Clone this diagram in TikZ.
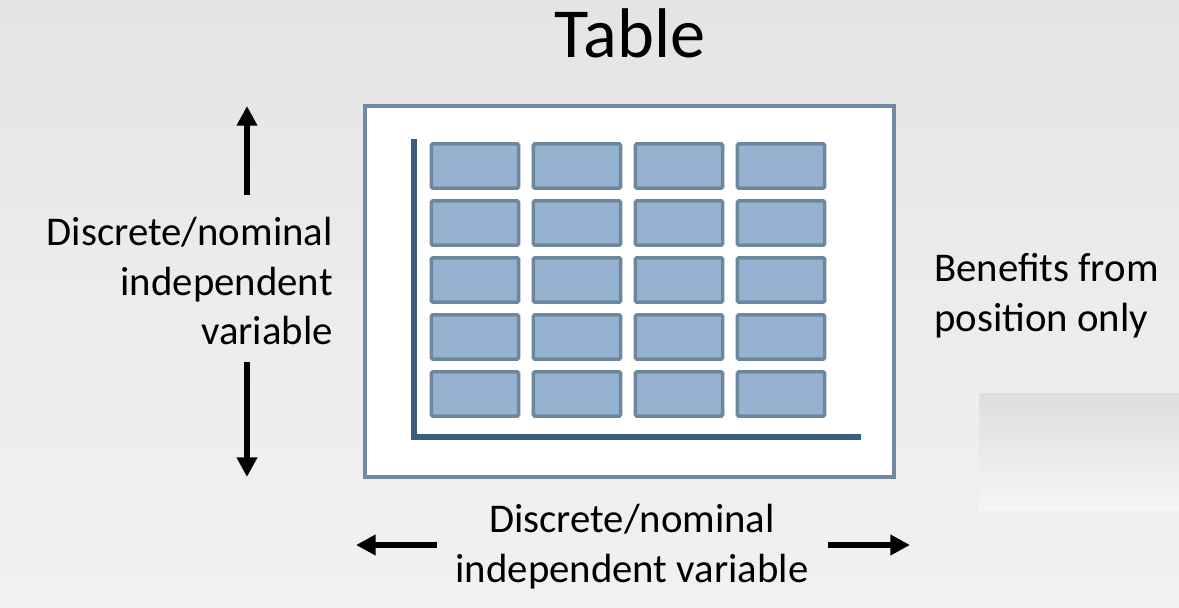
\documentclass[tikz,border=0pt]{standalone}
\usepackage{fontspec}
\setmainfont{Carlito}
\usetikzlibrary{arrows.meta,positioning}
\definecolor{bgtop}{HTML}{E4E4E4}
\definecolor{bgbottom}{HTML}{F1F1F1}
\definecolor{cellfill}{HTML}{95B3D0}
\definecolor{celldraw}{HTML}{6E879C}
\definecolor{framedraw}{HTML}{7089A0}
\definecolor{axisdraw}{HTML}{3B5E7E}
\tikzset{
  cell/.style={draw=celldraw,fill=cellfill,line width=2.5pt,rounded corners=1pt,
    minimum width=62pt,minimum height=31.5pt,inner sep=0pt},
  labeltext/.style={font=\fontsize{29}{35.5}\selectfont,inner sep=0pt},
  fatarrow/.style={-{Triangle[length=14pt,width=14pt]},line width=4.2pt,draw=black},
}

\begin{document}
\begin{tikzpicture}[x=0.025cm,y=-0.025cm,line join=miter]
  % background
  \shade[top color=bgtop,bottom color=bgbottom,middle color=bgbottom!98!black] (0,0) rectangle (1179,607);
  \shade[top color=black!13,bottom color=bgbottom!70!white] (979,393) rectangle (1179,510);
  \useasboundingbox (0,0) rectangle (1179,607);

  % title
  \node[inner sep=0pt,anchor=base,font=\fontsize{50}{60}\selectfont] (title) at (630,57) {Table};

  % frame and axes
  \draw[draw=framedraw,fill=white,line width=2.2pt] (365,106) rectangle (894,477);
  \coordinate (axistop) at (414,139);
  \coordinate (axiscorner) at (414,437);
  \coordinate (axisend) at (861,437);
  \draw[draw=axisdraw,line width=4.3pt] (axistop) -- (axiscorner) -- (axisend);

  % cells
  \foreach \r in {1,...,5}
    \foreach \c in {1,...,4}
      \node[cell] (cell-\r-\c) at ({475+102*(\c-1)},{166+57*(\r-1)}) {};

  % labels
  \node[labeltext,align=right,anchor=east] (rowvar) at (333,281)
    {Discrete/nominal\\independent\\variable};
  \node[labeltext,align=left,anchor=west] (benefit) at (934,296)
    {Benefits from\\position only};
  \node[labeltext,align=center] (colvar) at (632,547)
    {Discrete/nominal\\independent variable};

  % arrows
  \coordinate (uptail) at (247,195);
  \coordinate (uptip) at (247,106);
  \coordinate (downtail) at (247,362);
  \coordinate (downtip) at (247,477);
  \coordinate (lefttail) at (437,545);
  \coordinate (lefttip) at (356,545);
  \coordinate (righttail) at (828,545);
  \coordinate (righttip) at (910,545);
  \draw[fatarrow] (uptail) -- (uptip);
  \draw[fatarrow] (downtail) -- (downtip);
  \draw[fatarrow] (lefttail) -- (lefttip);
  \draw[fatarrow] (righttail) -- (righttip);
\end{tikzpicture}
\end{document}
